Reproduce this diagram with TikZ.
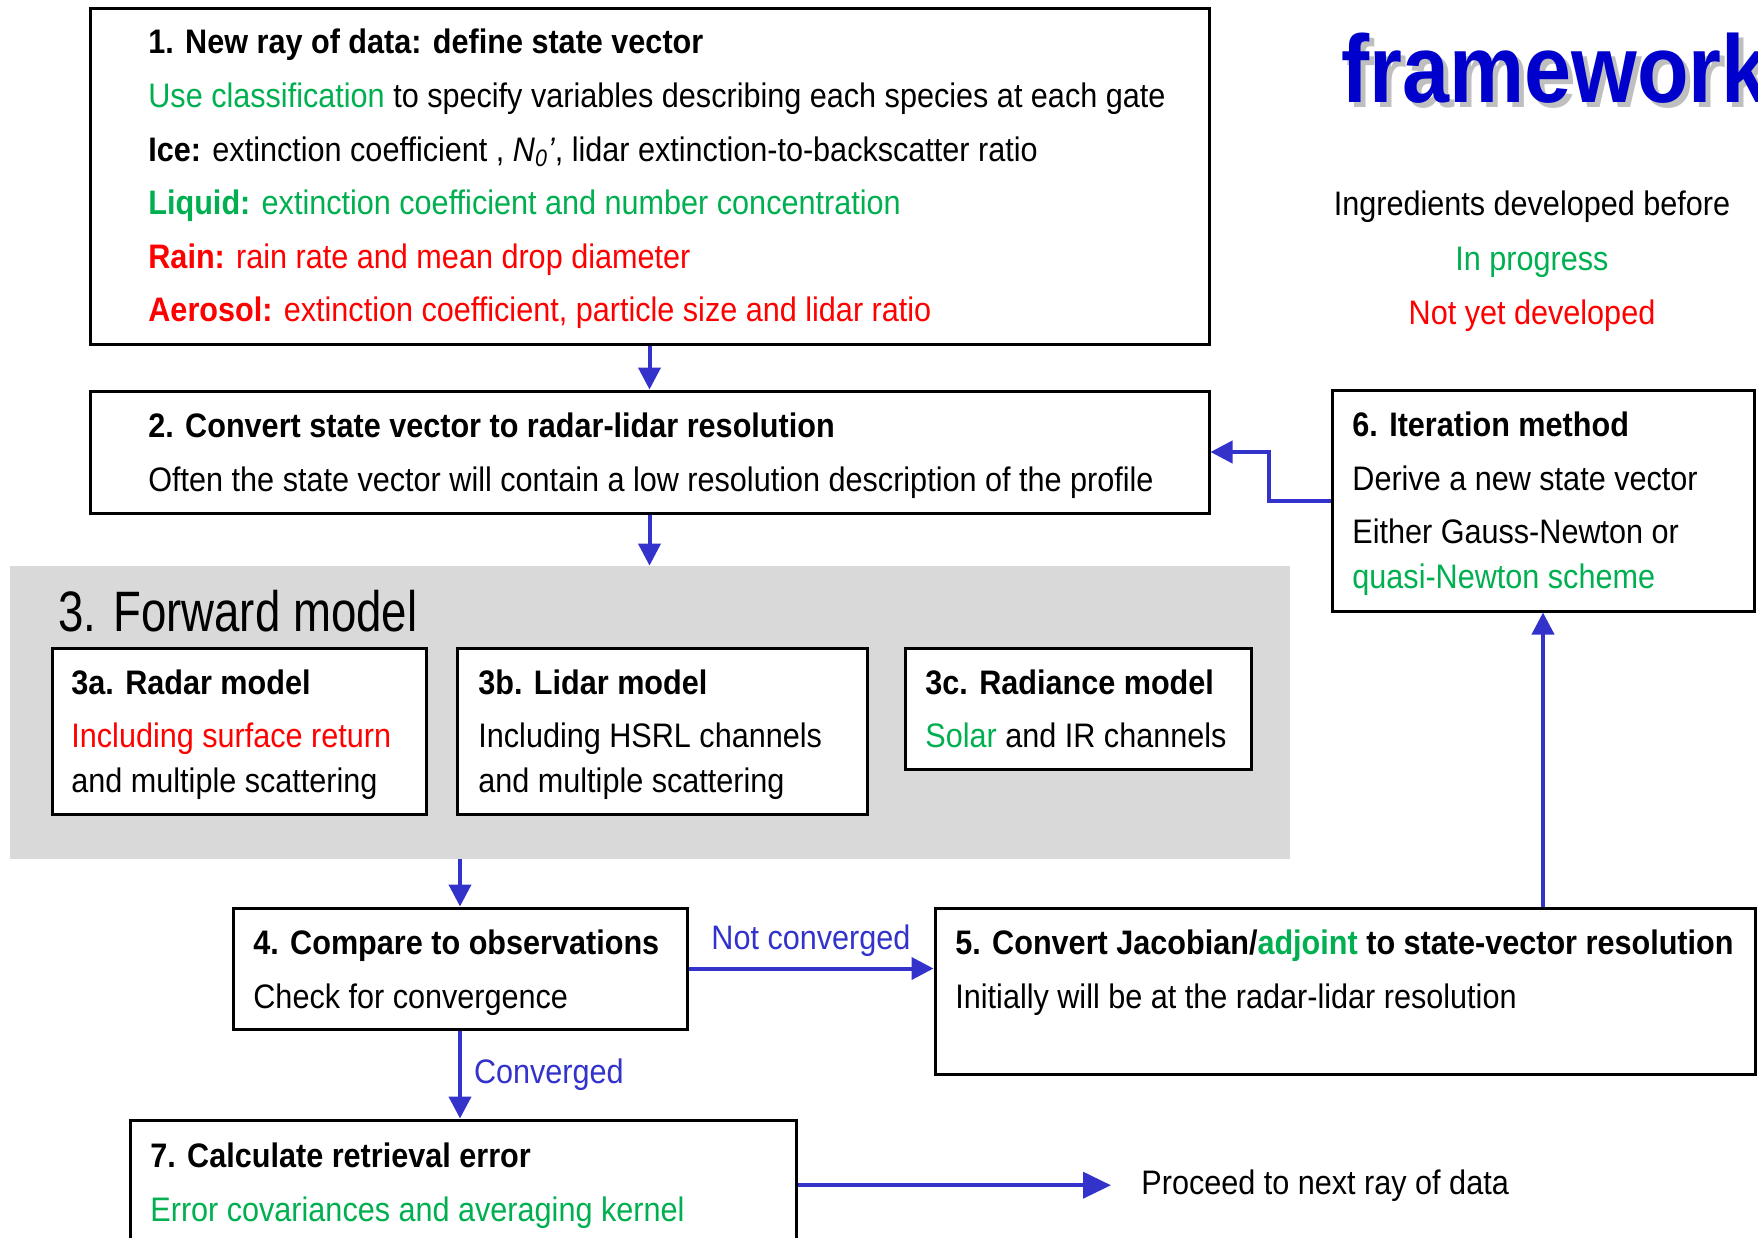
\documentclass[tikz,border=0pt]{standalone}
\usepackage{fontspec}
\setmainfont[FakeStretch=0.9]{Liberation Sans}
\newfontfamily\headfont[FakeStretch=0.88]{Liberation Sans}
\newfontfamily\fwdfont[FakeStretch=0.8]{Liberation Sans}
\usetikzlibrary{positioning,fit,arrows.meta}

\definecolor{ingreen}{HTML}{00B050}
\definecolor{notred}{HTML}{FF0000}
\definecolor{flowblue}{HTML}{3333CC}
\definecolor{fwdgray}{HTML}{D9D9D9}
\definecolor{headblue}{HTML}{0000CC}

\tikzset{
	box/.style={draw, line width=1.5pt, fill=white, inner sep=0pt},
	txt/.style={anchor=base west, inner sep=0pt, font=\fontsize{17}{20}\selectfont},
	legend/.style={anchor=base, inner sep=0pt, font=\fontsize{17}{20}\selectfont},
	flow/.style={draw=flowblue, line width=2pt, -{Triangle[length=11pt,width=11pt]}, color=flowblue},
	lbl/.style={inner sep=0pt, text=flowblue, font=\fontsize{17}{20}\selectfont},
}

\begin{document}
\begin{tikzpicture}[x=0.5pt, y=-0.5pt]
	\useasboundingbox (0,0) rectangle (1758,1238);

	% heading and legend
	\node (headshadow) [anchor=base west, inner sep=0pt, text=black!25, font=\headfont\bfseries\fontsize{48}{50}\selectfont] at (1346,107) {framework};
	\node (head) [anchor=base west, inner sep=0pt, text=headblue, font=\headfont\bfseries\fontsize{48}{50}\selectfont] at (1341,102) {framework};
	\node (before) [legend] at (1532,215) {Ingredients developed before};
	\node (progress) [legend, text=ingreen] at (1532,270) {In progress};
	\node (notyet) [legend, text=notred] at (1532,324) {Not yet developed};

	% forward model area
	\node (fwd) [fill=fwdgray, inner sep=0pt, fit={(10,566) (1290,859)}] {};
	\node (fwdtitle) [anchor=base west, inner sep=0pt, font=\fwdfont\fontsize{28.5}{30}\selectfont] at (58,631) {3. Forward model};

	% boxes
	\node (b1) [box, fit={(90,8) (1209,344)}] {};
	\node (b2) [box, fit={(90,391) (1209,513)}] {};
	\node (b3a) [box, fit={(52,648) (426,814)}] {};
	\node (b3b) [box, fit={(457,648) (867,814)}] {};
	\node (b3c) [box, fit={(905,648) (1251,769)}] {};
	\node (b4) [box, fit={(233,908) (687,1029)}] {};
	\node (b5) [box, fit={(935,908) (1755,1074)}] {};
	\node (b6) [box, fit={(1332,390) (1754,611)}] {};
	\node (b7) [box, fit={(130,1120) (796,1262)}] {};

	% box texts
	\node (t1) [txt, font=\fontsize{17}{20}\selectfont\bfseries] at (148,53) {1. New ray of data: define state vector};
	\node (t1a) [txt] at (148,107) {\textcolor{ingreen}{Use classification} to specify variables describing each species at each gate};
	\node (t1b) [txt] at (148,161) {\textbf{Ice:} extinction coefficient , \textit{N}\textsubscript{\textit{0}}\textit{'}, lidar extinction-to-backscatter ratio};
	\node (t1c) [txt, text=ingreen] at (148,214) {\textbf{Liquid:} extinction coefficient and number concentration};
	\node (t1d) [txt, text=notred] at (148,268) {\textbf{Rain:} rain rate and mean drop diameter};
	\node (t1e) [txt, text=notred] at (148,321) {\textbf{Aerosol:} extinction coefficient, particle size and lidar ratio};

	\node (t2) [txt, font=\fontsize{17}{20}\selectfont\bfseries] at (148,437) {2. Convert state vector to radar-lidar resolution};
	\node (t2a) [txt] at (148,491) {Often the state vector will contain a low resolution description of the profile};

	\node (t3a) [txt, font=\fontsize{17}{20}\selectfont\bfseries] at (71,694) {3a. Radar model};
	\node (t3a1) [txt, text=notred] at (71,747) {Including surface return};
	\node (t3a2) [txt] at (71,792) {and multiple scattering};
	\node (t3b) [txt, font=\fontsize{17}{20}\selectfont\bfseries] at (478,694) {3b. Lidar model};
	\node (t3b1) [txt] at (478,747) {Including HSRL channels};
	\node (t3b2) [txt] at (478,792) {and multiple scattering};
	\node (t3c) [txt, font=\fontsize{17}{20}\selectfont\bfseries] at (925,694) {3c. Radiance model};
	\node (t3c1) [txt] at (925,747) {\textcolor{ingreen}{Solar} and IR channels};

	\node (t4) [txt, font=\fontsize{17}{20}\selectfont\bfseries] at (253,954) {4. Compare to observations};
	\node (t4a) [txt] at (253,1008) {Check for convergence};
	\node (t5) [txt, font=\fontsize{17}{20}\selectfont\bfseries] at (955,954) {5. Convert Jacobian/\textcolor{ingreen}{adjoint} to state-vector resolution};
	\node (t5a) [txt] at (955,1008) {Initially will be at the radar-lidar resolution};
	\node (t6) [txt, font=\fontsize{17}{20}\selectfont\bfseries] at (1352,436) {6. Iteration method};
	\node (t6a) [txt] at (1352,490) {Derive a new state vector};
	\node (t6b) [txt] at (1352,543) {Either Gauss-Newton or};
	\node (t6c) [txt, text=ingreen] at (1352,588) {quasi-Newton scheme};
	\node (t7) [txt, font=\fontsize{17}{20}\selectfont\bfseries] at (150,1167) {7. Calculate retrieval error};
	\node (t7a) [txt, text=ingreen] at (150,1221) {Error covariances and averaging kernel};

	\node (proceed) [txt] at (1141,1194) {Proceed to next ray of data};

	% connectors
	\draw [flow] (b1.south) -- (b2.north);
	\draw [flow] (b2.south) -- (b2.south |- fwd.north);
	\draw [flow] (fwd.south -| b4.north) -- (b4.north);
	\draw [flow] (b4.east) -- (b4.east -| b5.west) node (notconv) [lbl, midway, above=5pt] {Not converged};
	\draw [flow] (b4.south) -- (b4.south |- b7.north) node (conv) [lbl, midway, right=6pt] {Converged};
	\draw [flow, -{Triangle[length=14pt,width=13pt]}] (b7.east |- proceed.west) -- ([xshift=-15pt]proceed.west);
	\draw [flow] (b5.north -| b6.south) -- (b6.south);
	\draw [flow] (b6.west) -- ++(-62,0) |- (b2.east);
\end{tikzpicture}
\end{document}
